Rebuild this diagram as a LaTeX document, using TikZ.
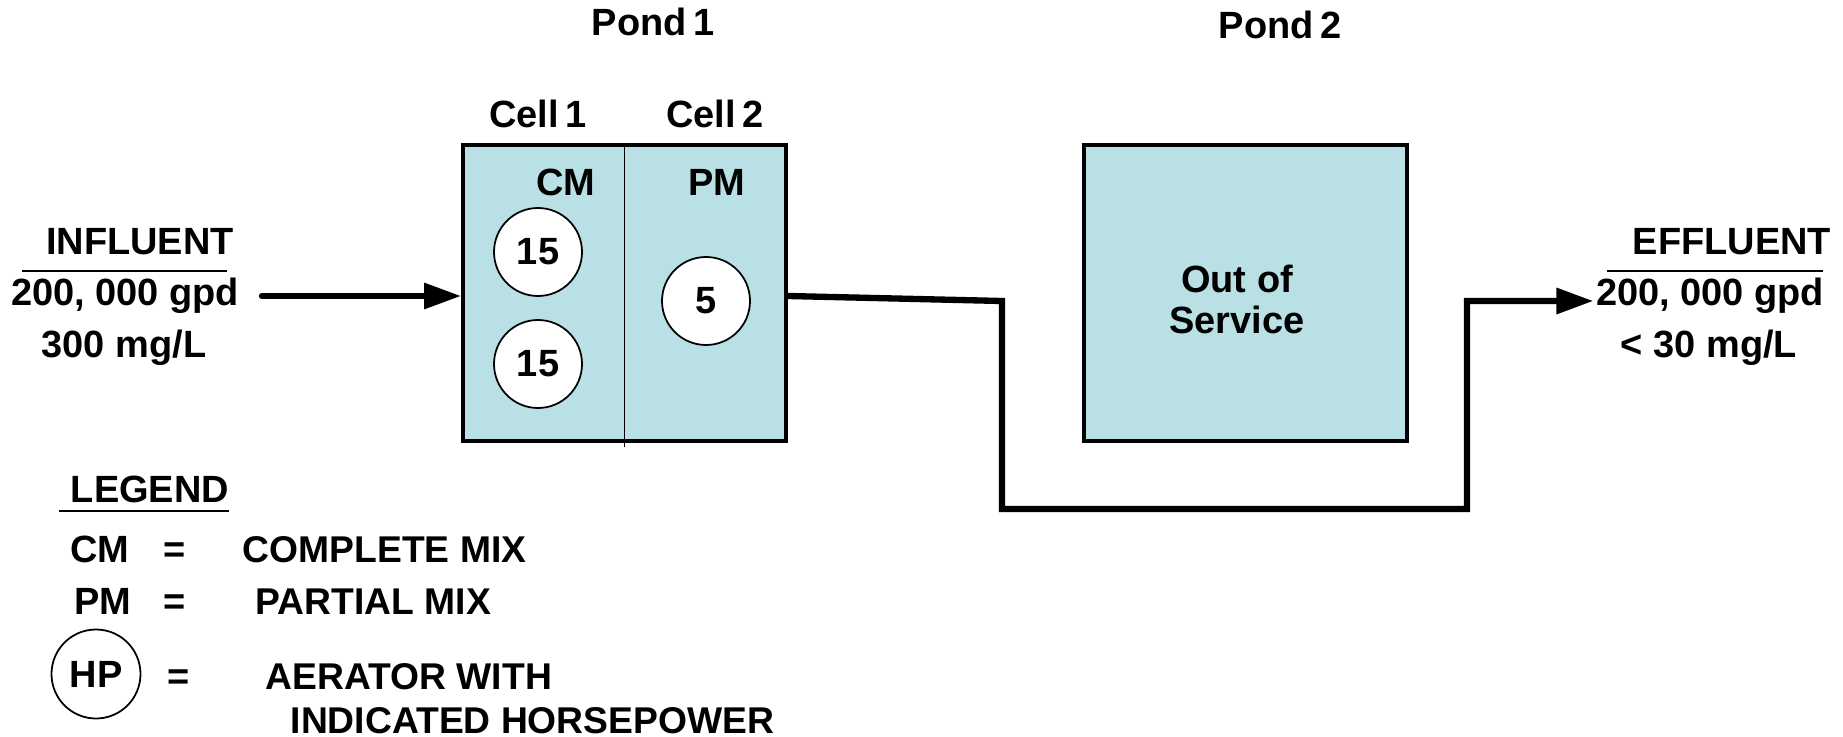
\documentclass[tikz,border=0pt]{standalone}
\usepackage{fontspec}
\setmainfont{Liberation Sans}
\usetikzlibrary{arrows.meta}
\definecolor{pondfill}{RGB}{185,224,228}
\tikzset{
  pond/.style={draw,line width=1.1pt,fill=pondfill,
    minimum width=3.23cm,minimum height=2.96cm,inner sep=0pt},
  aerator/.style={circle,draw,line width=0.5pt,fill=white,
    minimum size=0.88cm,inner sep=0pt},
  flow/.style={line width=1.8pt},
  lbl/.style={anchor=base,inner sep=0pt},
  legtxt/.style={anchor=base west,inner sep=0pt,
    font=\fontsize{10.6}{12}\selectfont\bfseries},
  rule/.style={line width=0.6pt},
}
\begin{document}
\begin{tikzpicture}[font=\fontsize{10.8}{12}\selectfont\bfseries,
    >={Triangle[length=0.37cm,width=0.25cm]}]
      \useasboundingbox (0,0) rectangle (18.43,7.36);
      % the two ponds
      \node[pond] (pond1) at (6.245,4.43) {};
      \node[pond] (pond2) at (12.455,4.43) {};
      \draw[line width=0.45pt] (pond1.north)
        -- ([yshift=-0.04cm]pond1.south);
      \node[lbl] (p1lbl) at (6.53,7.00) {Pond\,1};
      \node[lbl] (p2lbl) at (12.80,6.97) {Pond\,2};
      \node[lbl] (c1lbl) at (5.38,6.08) {Cell\,1};
      \node[lbl] (c2lbl) at (7.15,6.08) {Cell\,2};
      \node[lbl] (cmlbl) at (5.66,5.40) {CM};
      \node[lbl] (pmlbl) at (7.17,5.40) {PM};
      \foreach \name/\x/\y/\hp in {aer1/5.38/4.84/15,
        aer2/5.38/3.72/15,aer3/7.06/4.35/5}{
        \node[aerator] (\name) at (\x,\y) {\hp};
      }
      \node[align=center,inner sep=0pt,
        font=\fontsize{10.8}{11.7}\selectfont\bfseries]
        (oos) at (12.37,4.37) {Out of\\Service};
      % influent side
      \node[lbl] (inlbl) at (1.40,4.81) {INFLUENT};
      \draw[rule] (0.22,4.65) -- (2.27,4.65);
      \node[lbl] (inq) at (1.25,4.30) {200, 000 gpd};
      \node[lbl] (inc) at (1.24,3.79) {300 mg/L};
      \coordinate (inflow) at (2.62,4.40);
      \draw[flow,->,line cap=round] (inflow) -- (inflow -| pond1.west);
      % effluent side
      \node[lbl] (efflbl) at (17.32,4.81) {EFFLUENT};
      \draw[rule] (16.07,4.65) -- (18.23,4.65);
      \node[lbl] (effq) at (17.10,4.30) {200, 000 gpd};
      \node[lbl] (effc) at (17.09,3.79) {< 30 mg/L};
      \coordinate (drop) at (10.02,4.35);
      \coordinate (rise) at (14.67,4.35);
      \coordinate (low) at (10.02,2.27);
      \draw[flow,->] (inflow -| pond1.east) -- (drop) -- (low)
        -- (low -| rise) -- (rise)
        -- ([xshift=-0.02cm]rise -| effq.west);
      % legend
      \node[lbl] (leg) at (1.50,2.34) {LEGEND};
      \draw[rule] (0.59,2.25) -- (2.29,2.25);
      \node[lbl] (cmkey) at (1.00,1.74) {CM};
      \node[lbl] (cmeq) at (1.75,1.74) {=};
      \node[legtxt] (cmtxt) at (2.42,1.74) {COMPLETE MIX};
      \node[lbl] (pmkey) at (1.03,1.22) {PM};
      \node[lbl] (pmeq) at (1.75,1.22) {=};
      \node[legtxt] (pmtxt) at (2.55,1.22) {PARTIAL MIX};
      \node[aerator,minimum size=0.89cm] (hpkey) at (0.96,0.62) {HP};
      \node[lbl] (hpeq) at (1.79,0.47) {=};
      \node[legtxt] (hptxt) at (2.65,0.47) {AERATOR WITH};
      \node[legtxt] (hptxt2) at (2.90,0.03) {INDICATED HORSEPOWER};
    \end{tikzpicture}
\end{document}
